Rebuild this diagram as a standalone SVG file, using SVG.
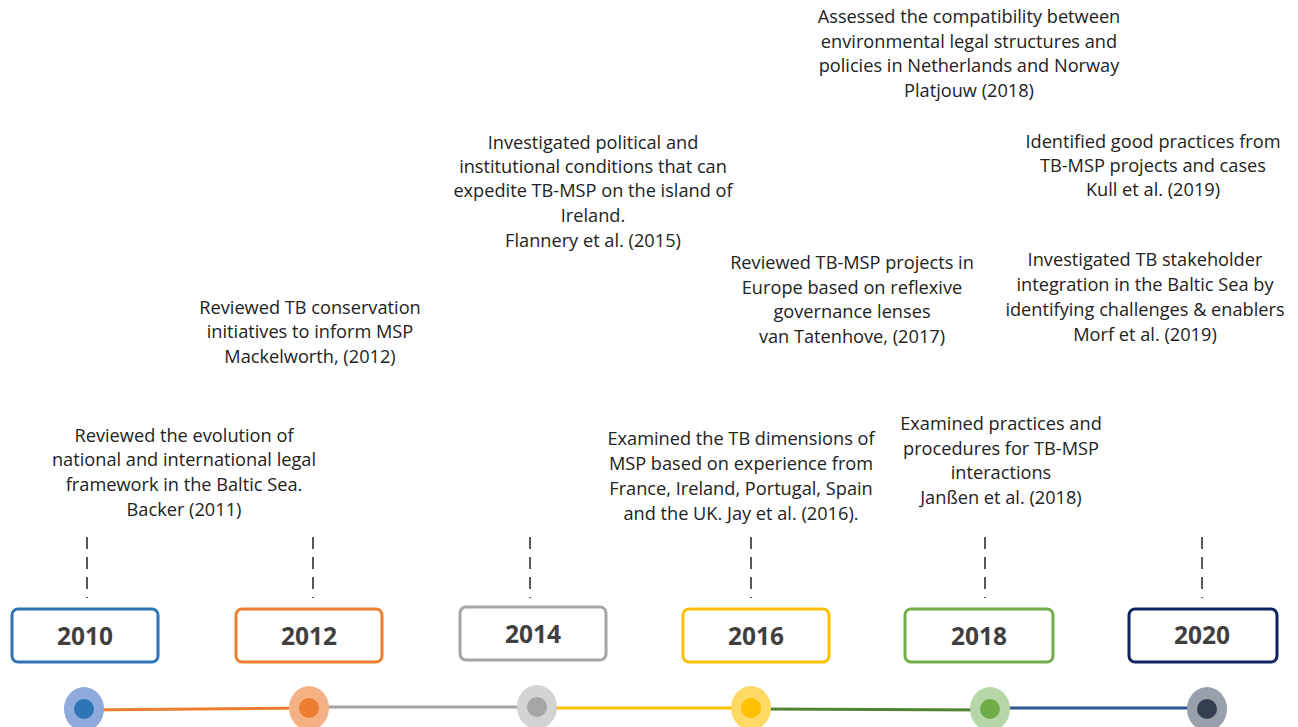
<svg xmlns="http://www.w3.org/2000/svg" width="1298" height="727" viewBox="0 0 1298 727">
<style>
.t{font-family:"Open Sans","Liberation Sans",sans-serif;font-size:18.2px;fill:#222;text-anchor:middle}
.y{font-family:"Open Sans","Liberation Sans",sans-serif;font-size:24.5px;font-weight:bold;fill:#3f3f3f;text-anchor:middle}
.box{fill:#fff;stroke-width:3}
.dash{stroke:#000;stroke-width:1.3;stroke-dasharray:12 8;fill:none}
</style>
<rect width="1298" height="727" fill="#fff"/>
<g id="connectors">
<line class="dash" x1="87" y1="537" x2="87" y2="598"/>
<line class="dash" x1="313" y1="537" x2="313" y2="598"/>
<line class="dash" x1="530" y1="537" x2="530" y2="598"/>
<line class="dash" x1="751" y1="537" x2="751" y2="598"/>
<line class="dash" x1="985" y1="537" x2="985" y2="598"/>
<line class="dash" x1="1202" y1="537" x2="1202" y2="598"/>
<line x1="84" y1="710" x2="309" y2="708" stroke="#ED7D31" stroke-width="3"/>
<line x1="309" y1="707" x2="537" y2="707" stroke="#A5A5A5" stroke-width="3"/>
<line x1="537" y1="708" x2="751" y2="708" stroke="#FFC000" stroke-width="3"/>
<line x1="751" y1="709" x2="990" y2="710" stroke="#548235" stroke-width="3"/>
<line x1="990" y1="708" x2="1207" y2="708" stroke="#2F5597" stroke-width="3"/>
</g>
<g id="y2010">
<rect class="box" x="12" y="609" width="146" height="53" rx="6" stroke="#2E75B6"/>
<text class="y" x="85" y="645">2010</text>
<ellipse cx="84" cy="709" rx="20" ry="22" fill="#8FAADC"/>
<circle cx="84" cy="709" r="10" fill="#2E75B6"/>
</g>
<g id="y2012">
<rect class="box" x="236" y="609" width="146" height="53" rx="6" stroke="#ED7D31"/>
<text class="y" x="309" y="645">2012</text>
<ellipse cx="309" cy="708" rx="20" ry="22" fill="#F4B183"/>
<circle cx="309" cy="708" r="10" fill="#ED7D31"/>
</g>
<g id="y2014">
<rect class="box" x="460" y="607" width="146" height="53" rx="6" stroke="#A5A5A5"/>
<text class="y" x="533" y="643">2014</text>
<ellipse cx="537" cy="707" rx="20" ry="22" fill="#D3D3D3"/>
<circle cx="537" cy="707" r="10" fill="#A5A5A5"/>
</g>
<g id="y2016">
<rect class="box" x="683" y="609" width="146" height="53" rx="6" stroke="#FFC000"/>
<text class="y" x="756" y="645">2016</text>
<ellipse cx="751" cy="708" rx="20" ry="22" fill="#FFD966"/>
<circle cx="751" cy="708" r="10" fill="#FFC000"/>
</g>
<g id="y2018">
<rect class="box" x="905" y="609" width="148" height="53" rx="6" stroke="#70AD47"/>
<text class="y" x="979" y="645">2018</text>
<ellipse cx="990" cy="709" rx="20" ry="22" fill="#B5D6A7"/>
<circle cx="990" cy="709" r="10" fill="#70AD47"/>
</g>
<g id="y2020">
<rect class="box" x="1129" y="609" width="148" height="53" rx="6" stroke="#0E2260"/>
<text class="y" x="1202" y="644">2020</text>
<ellipse cx="1207" cy="709" rx="20" ry="22" fill="#99A0AB"/>
<circle cx="1207" cy="709" r="10" fill="#333F50"/>
</g>
<g id="backer">
<text class="t" x="184" y="442">Reviewed the evolution of</text>
<text class="t" x="184" y="466">national and international legal</text>
<text class="t" x="184" y="491">framework in the Baltic Sea.</text>
<text class="t" x="184" y="516">Backer (2011)</text>
</g>
<g id="mackelworth">
<text class="t" x="310" y="314">Reviewed TB conservation</text>
<text class="t" x="310" y="338">initiatives to inform MSP</text>
<text class="t" x="310" y="363">Mackelworth, (2012)</text>
</g>
<g id="flannery">
<text class="t" x="593" y="149">Investigated political and</text>
<text class="t" x="593" y="173">institutional conditions that can</text>
<text class="t" x="593" y="197">expedite TB-MSP on the island of</text>
<text class="t" x="593" y="222">Ireland.</text>
<text class="t" x="593" y="247">Flannery et al. (2015)</text>
</g>
<g id="jay">
<text class="t" x="741" y="445">Examined the TB dimensions of</text>
<text class="t" x="741" y="470">MSP based on experience from</text>
<text class="t" x="741" y="495">France, Ireland, Portugal, Spain</text>
<text class="t" x="741" y="520">and the UK. Jay et al. (2016).</text>
</g>
<g id="tatenhove">
<text class="t" x="852" y="269">Reviewed TB-MSP projects in</text>
<text class="t" x="852" y="294">Europe based on reflexive</text>
<text class="t" x="852" y="318">governance lenses</text>
<text class="t" x="852" y="343">van Tatenhove, (2017)</text>
</g>
<g id="platjouw">
<text class="t" x="969" y="23">Assessed the compatibility between</text>
<text class="t" x="969" y="48">environmental legal structures and</text>
<text class="t" x="969" y="72">policies in Netherlands and Norway</text>
<text class="t" x="969" y="97">Platjouw (2018)</text>
</g>
<g id="kull">
<text class="t" x="1153" y="148">Identified good practices from</text>
<text class="t" x="1153" y="172">TB-MSP projects and cases</text>
<text class="t" x="1153" y="196">Kull et al. (2019)</text>
</g>
<g id="morf">
<text class="t" x="1145" y="266">Investigated TB stakeholder</text>
<text class="t" x="1145" y="291">integration in the Baltic Sea by</text>
<text class="t" x="1145" y="316">identifying challenges &amp; enablers</text>
<text class="t" x="1145" y="341">Morf et al. (2019)</text>
</g>
<g id="janssen">
<text class="t" x="1001" y="430">Examined practices and</text>
<text class="t" x="1001" y="455">procedures for TB-MSP</text>
<text class="t" x="1001" y="479">interactions</text>
<text class="t" x="1001" y="504">Janßen et al. (2018)</text>
</g>
</svg>
